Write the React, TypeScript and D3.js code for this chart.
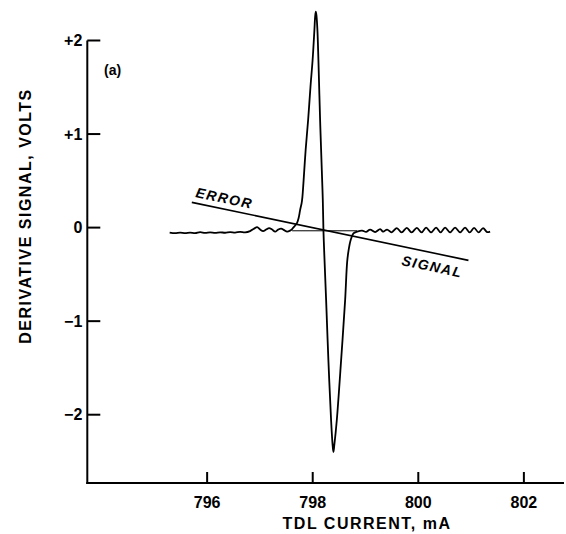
import React from "react";
import * as d3 from "d3";

// TDL current (mA) / derivative signal (V)
const traceX = [
  795.29, 795.394, 795.489, 795.583, 795.678, 795.773, 795.867, 795.962, 796.057, 796.152,
  796.246, 796.341, 796.436, 796.53, 796.625, 796.72, 796.814, 796.89, 796.947, 797.004,
  797.061, 797.117, 797.174, 797.231, 797.288, 797.345, 797.402, 797.458, 797.515, 797.572,
  797.61, 797.648, 797.699, 797.733, 797.761, 797.79, 797.805, 797.824, 797.866, 797.913,
  797.96, 797.998, 798.032, 798.047, 798.059, 798.072, 798.089, 798.108, 798.14, 798.172,
  798.191, 798.203, 798.22, 798.254, 798.297, 798.348, 798.377, 798.392, 798.409, 798.456,
  798.538, 798.614, 798.652, 798.68, 798.718, 798.771, 798.841, 798.936, 799.011, 799.087,
  799.182, 799.277, 799.333, 799.409, 799.494, 799.593, 799.684, 799.782, 799.873, 799.972,
  800.063, 800.148, 800.242, 800.337, 800.422, 800.508, 800.602, 800.697, 800.792, 800.886,
  800.972, 801.057, 801.142, 801.227, 801.303, 801.36,
];
const traceY = [
  -0.053, -0.059, -0.053, -0.059, -0.053, -0.059, -0.048, -0.057, -0.051, -0.057,
  -0.05, -0.055, -0.048, -0.053, -0.046, -0.051, -0.037, -0.011, 0.005, -0.021,
  -0.037, -0.021, -0.005, -0.021, -0.043, -0.021, -0.011, -0.027, -0.043, -0.032,
  -0.016, 0.011, 0.045, 0.102, 0.187, 0.262, 0.329, 0.476, 0.829, 1.15,
  1.524, 1.791, 2.112, 2.262, 2.308, 2.262, 2.112, 1.791, 1.15, 0.615,
  0.294, -0.027, -0.294, -0.775, -1.417, -2.059, -2.326, -2.398, -2.326, -2.059,
  -1.417, -0.775, -0.369, -0.241, -0.134, -0.062, -0.043, -0.032, -0.046, -0.021,
  -0.048, -0.016, -0.043, -0.021, -0.05, -0.005, -0.051, -0.003, -0.051, -0.003,
  -0.051, -0.001, -0.051, -0.001, -0.051, -0.001, -0.051, -0.001, -0.051, -0.001,
  -0.051, -0.003, -0.051, -0.005, -0.048, -0.043,
];

// thin reference baseline under the lobes
const baseRefX = [797.61, 798.84];
const baseRefY = [-0.034, -0.034];

// straight error-signal line
const errorX = [795.71, 800.95];
const errorY = [0.27, -0.35];

const xTicks = [796, 798, 800, 802];
const yTicks = [-2, -1, 0, 1, 2];
const yTickLabels = ["\u22122", "\u22121", "0", "+1", "+2"];

const width = 566;
const height = 534;
const font = "'Liberation Sans', Arial, Helvetica, sans-serif";

export default function App() {
  const x = d3.scaleLinear().domain([793.73, 802.76]).range([87.3, 564]);
  const y = d3.scaleLinear().domain([-2.73, 2]).range([483, 40.5]);

  const line = d3
    .line<number>()
    .x((i) => x(traceX[i]))
    .y((i) => y(traceY[i]))
    .curve(d3.curveCatmullRom.alpha(0.5));

  const tracePath = line(traceX.map((_, i) => i));

  // angle of the error line, used for the labels along it
  const ex0 = x(errorX[0]);
  const ey0 = y(errorY[0]);
  const ex1 = x(errorX[1]);
  const ey1 = y(errorY[1]);
  const angle = (Math.atan2(ey1 - ey0, ex1 - ex0) * 180) / Math.PI;

  const x0 = x.range()[0];
  const yBottom = y.range()[0];
  const yTop = y.range()[1];

  return (
    <svg
      width={width}
      height={height}
      style={{ position: "absolute", left: 0, top: 0, background: "#fff" }}
      fontFamily={font}
    >
      {/* axes */}
      <line x1={x0} y1={yTop} x2={x0} y2={yBottom + 1} stroke="#000" strokeWidth={2} />
      <line x1={x0 - 1} y1={yBottom} x2={x.range()[1]} y2={yBottom} stroke="#000" strokeWidth={2} />

      {yTicks.map((t, i) => (
        <g key={t}>
          <line x1={x0} x2={x0 + 13} y1={y(t)} y2={y(t)} stroke="#000" strokeWidth={2} />
          <text
            x={x0 - 5}
            y={y(t)}
            textAnchor="end"
            dominantBaseline="central"
            fontSize={16}
            fontWeight="bold"
          >
            {yTickLabels[i]}
          </text>
        </g>
      ))}

      {xTicks.map((t) => (
        <g key={t}>
          <line x1={x(t)} x2={x(t)} y1={yBottom} y2={yBottom - 11} stroke="#000" strokeWidth={2} />
          <text x={x(t)} y={508} textAnchor="middle" fontSize={16} fontWeight="bold">
            {t}
          </text>
        </g>
      ))}

      <text x={367} y={529} textAnchor="middle" fontSize={16} fontWeight="bold" letterSpacing={1.5}>
        TDL CURRENT, mA
      </text>
      <text
        transform="translate(31,216) rotate(-90)"
        textAnchor="middle"
        fontSize={16}
        fontWeight="bold"
        letterSpacing={1.5}
      >
        DERIVATIVE SIGNAL, VOLTS
      </text>

      <text x={104} y={75} fontSize={14} fontWeight="bold">
        (a)
      </text>

      {/* error signal line */}
      <line x1={ex0} y1={ey0} x2={ex1} y2={ey1} stroke="#000" strokeWidth={1.6} />
      <text
        transform={`translate(195,197) rotate(${angle})`}
        fontSize={14}
        fontWeight="bold"
        fontStyle="italic"
        letterSpacing={1.5}
      >
        ERROR
      </text>
      <text
        transform={`translate(401,265) rotate(${angle})`}
        fontSize={14}
        fontWeight="bold"
        fontStyle="italic"
        letterSpacing={1.5}
      >
        SIGNAL
      </text>

      {/* reference baseline */}
      <line
        x1={x(baseRefX[0])}
        y1={y(baseRefY[0])}
        x2={x(baseRefX[1])}
        y2={y(baseRefY[1])}
        stroke="#000"
        strokeWidth={1}
      />

      {/* derivative trace */}
      <path d={tracePath ?? ""} fill="none" stroke="#000" strokeWidth={1.8} strokeLinejoin="round" />
    </svg>
  );
}
